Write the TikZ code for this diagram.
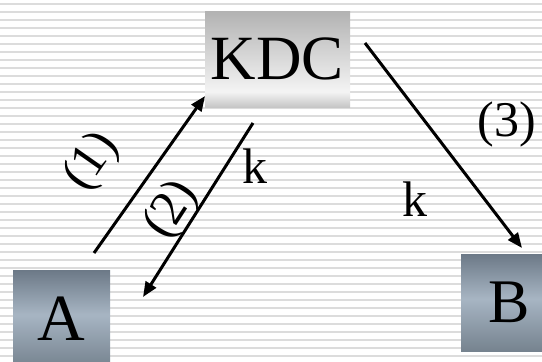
\documentclass[tikz,border=0pt]{standalone}
\usepackage{fontspec}
\setmainfont{Liberation Serif}
\usetikzlibrary{arrows.meta}

\definecolor{stripegray}{HTML}{DCDCDC}
\definecolor{kdctop}{HTML}{B2B2B2}
\definecolor{kdclite}{HTML}{F4F4F4}
\definecolor{kdcbot}{HTML}{C6C6C6}
\definecolor{boxdark}{HTML}{6C7987}
\definecolor{boxlite}{HTML}{A7B5C3}
\definecolor{boxbot}{HTML}{76838F}

\pgfdeclareverticalshading{kdcshade}{100bp}{color(0bp)=(kdcbot); color(25bp)=(kdcbot); color(33bp)=(kdclite); color(75bp)=(kdctop); color(100bp)=(kdctop)}
\pgfdeclareverticalshading{usershade}{100bp}{color(0bp)=(boxbot); color(25bp)=(boxbot); color(52bp)=(boxlite); color(75bp)=(boxdark); color(100bp)=(boxdark)}

\begin{document}
\begin{tikzpicture}[x=1pt, y=-1pt,
  stripe/.style={draw=stripegray, line width=2pt},
  userbox/.style={shading=usershade, minimum width=97pt, minimum height=97pt, inner sep=0pt},
  msg/.style={line width=3pt, -{Triangle[length=15pt,width=12pt]}},
  lbl/.style={font=\fontsize{50}{50}\selectfont, inner sep=0pt}]
  \useasboundingbox (0,0) rectangle (542,362);
  \clip (0,0) rectangle (542,362);
  \fill[white] (0,0) rectangle (542,362);

  % striped background
  \foreach \y in {4,12,...,356}
    \draw[stripe] (0,\y) -- (542,\y);

  % the three parties
  \node[shading=kdcshade, minimum width=145pt, minimum height=96pt, inner sep=0pt,
        font=\fontsize{63}{63}\selectfont] (kdc) at (277.5,59) {KDC};
  \node[userbox, font=\fontsize{66}{66}\selectfont] (a) at (61.5,318.5) {A};
  \node[userbox, font=\fontsize{62}{62}\selectfont] (b) at (509.5,302.5) {B};

  % arrow ends
  \coordinate (req) at (94,253);
  \coordinate (reqtip) at (205,96);
  \coordinate (rep) at (253,123);
  \coordinate (reptip) at (143,297);
  \coordinate (fwd) at (365,43);
  \coordinate (fwdtip) at (522,248);

  \draw[msg] (req) -- (reqtip);
  \draw[msg] (rep) -- (reptip);
  \draw[msg] (fwd) -- (fwdtip);

  % labels
  \node[lbl, rotate=55] (one) at (92,162) {(1)};
  \node[lbl, rotate=57] (two) at (172,210) {(2)};
  \node[lbl] (three) at (507,124) {(3)};
  \node[lbl] (ka) at (255,166) {k};
  \node[lbl] (kb) at (415,199) {k};
\end{tikzpicture}
\end{document}
